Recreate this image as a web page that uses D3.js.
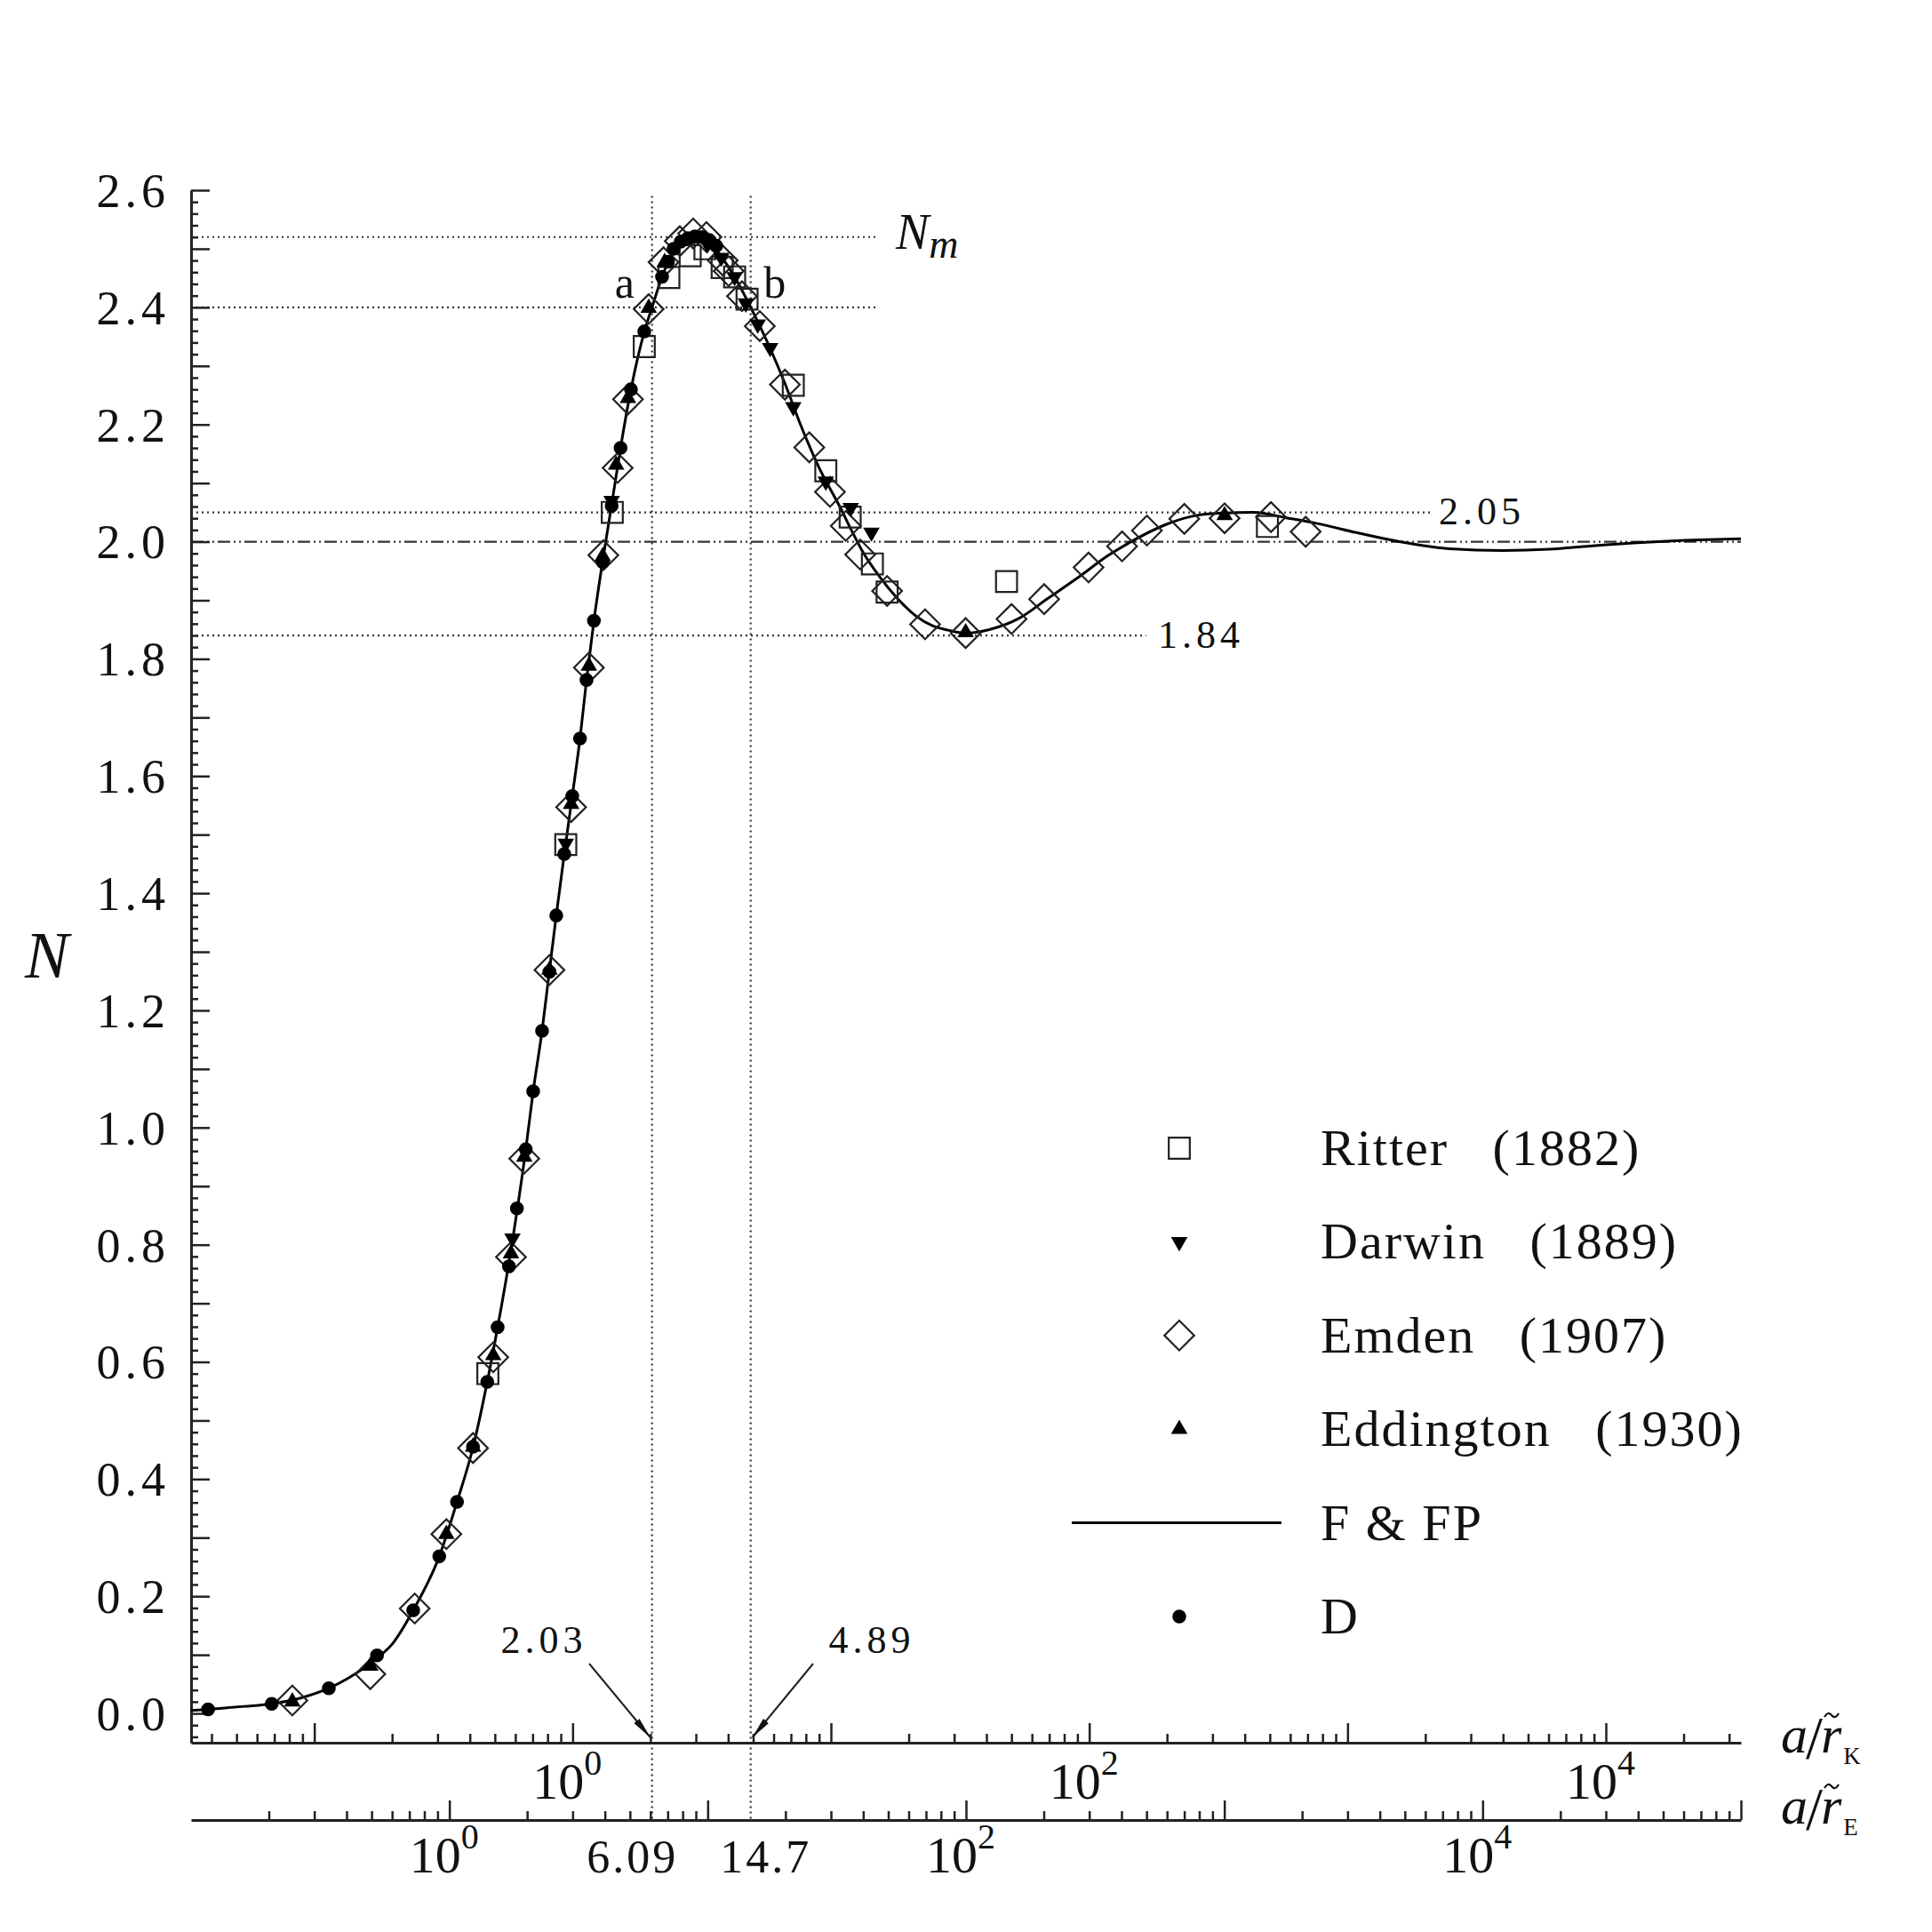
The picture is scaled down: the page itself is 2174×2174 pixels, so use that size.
<!DOCTYPE html>
<meta charset="utf-8">
<head>
    <title>N versus a/r</title>
    <script src="https://cdn.jsdelivr.net/npm/d3@7"></script>
</head>

<style>
    body { margin: 0; background: #fff; }
    text { font-family: "Liberation Serif", serif; fill: #111; }
    .axis path, .axis line { stroke: #222; }
    .axis path { stroke-width: 3px; }
    .axis line { stroke-width: 2.5px; }
</style>

<svg></svg>

<script>
    var W = 2174, H = 2174;

    // F & FP curve (a/r_K, N)
    var curveK = [0.0333, 0.0388, 0.0536, 0.0684, 0.0897, 0.1138, 0.1351, 0.172, 0.2008, 0.2415,
        0.3046, 0.3568, 0.4115, 0.4672, 0.5125, 0.5816, 0.6588, 0.7036, 0.7615, 0.8133,
        0.8643, 0.9284, 0.997, 1.068, 1.132, 1.209, 1.308, 1.416, 1.533, 1.682,
        1.894, 2.03, 2.219, 2.402, 2.600, 2.928, 3.297, 3.713, 4.238, 4.89,
        5.817, 6.636, 7.574, 8.874, 10.96, 11.99, 13.19, 15.45, 18.10, 21.21,
        24.85, 28.37, 33.23, 41.02, 53.44, 69.58, 90.6, 118.0, 153.7, 200.0,
        260.6, 339.3, 430.3, 590.6, 764, 1119, 1588, 2479, 3996, 6042,
        8851, 14260, 22970, 33333];
    var curveN = [0.005, 0.007, 0.012, 0.0165, 0.027, 0.043, 0.060, 0.092, 0.119, 0.176,
        0.268, 0.361, 0.454, 0.566, 0.659, 0.800, 0.963, 1.062, 1.165, 1.268,
        1.362, 1.467, 1.566, 1.664, 1.764, 1.865, 1.968, 2.063, 2.160, 2.260,
        2.358, 2.400, 2.452, 2.488, 2.510, 2.521, 2.517, 2.490, 2.452, 2.400,
        2.330, 2.270, 2.203, 2.132, 2.055, 2.020, 1.985, 1.940, 1.903, 1.874,
        1.856, 1.849, 1.844, 1.850, 1.869, 1.904, 1.939, 1.976, 2.006, 2.030,
        2.045, 2.049, 2.050, 2.040, 2.031, 2.014, 2.000, 1.988, 1.985, 1.987,
        1.993, 1.999, 2.003, 2.005];

    var ritterK = [0.4697, 0.9408, 1.424, 1.894, 2.358, 2.852, 3.253, 3.793, 4.238, 4.735,
        7.149, 9.552, 11.87, 14.47, 16.50, 47.84, 489.5];
    var ritterN = [0.580, 1.483, 2.050, 2.333, 2.451, 2.488, 2.500, 2.468, 2.452, 2.414,
        2.267, 2.121, 2.042, 1.962, 1.914, 1.932, 2.026];

    var darwinK = [0.585, 0.9408, 1.416, 3.323, 3.762, 4.238, 4.683, 5.208, 5.817, 7.149,
        9.552, 11.93, 14.35];
    var darwinN = [0.811, 1.485, 2.070, 2.508, 2.485, 2.452, 2.407, 2.371, 2.331, 2.230,
        2.103, 2.058, 2.016];

    var emdenK = [0.0822, 0.1647, 0.2447, 0.3245, 0.4115, 0.4928, 0.5772, 0.650, 0.8133, 0.9867,
        1.156, 1.315, 1.494, 1.638, 1.970, 2.249, 2.600, 2.928, 3.297, 3.812,
        4.019, 4.526, 5.304, 6.636, 8.245, 9.915, 11.41, 12.98, 16.50, 23.14,
        33.23, 50.02, 66.89, 99.38, 134.0, 167.2, 233.3, 334.2, 505.2, 688.2];
    var emdenN = [0.022, 0.067, 0.179, 0.306, 0.453, 0.608, 0.779, 0.947, 1.269, 1.547,
        1.785, 1.977, 2.126, 2.243, 2.397, 2.477, 2.513, 2.526, 2.520, 2.480,
        2.462, 2.419, 2.368, 2.268, 2.161, 2.085, 2.027, 1.978, 1.916, 1.859,
        1.844, 1.868, 1.902, 1.956, 1.992, 2.019, 2.039, 2.040, 2.042, 2.017];

    var eddK = [0.0822, 0.1647, 0.3245, 0.4115, 0.4928, 0.5772, 0.650, 0.8133, 0.9867, 1.156,
        1.308, 1.474, 1.638, 1.970, 2.272, 33.23, 334.2];
    var eddN = [0.020, 0.081, 0.306, 0.455, 0.611, 0.785, 0.950, 1.269, 1.552, 1.788,
        1.975, 2.131, 2.245, 2.399, 2.477, 1.845, 2.045];

    var dK = [0.0388, 0.0684, 0.1138, 0.1749, 0.2415, 0.3046, 0.3568, 0.4115, 0.4672, 0.5125,
        0.5668, 0.6085, 0.6588, 0.7036, 0.7615, 0.8133, 0.8643, 0.9284, 0.997, 1.068,
        1.132, 1.209, 1.308, 1.416, 1.533, 1.682, 1.894, 2.219, 2.339, 2.459,
        2.620, 2.792, 2.974, 3.169, 3.376, 3.596];
    var dN = [0.007, 0.0165, 0.043, 0.099, 0.176, 0.268, 0.361, 0.455, 0.566, 0.659,
        0.763, 0.862, 0.963, 1.062, 1.165, 1.266, 1.362, 1.467, 1.566, 1.664,
        1.764, 1.865, 1.965, 2.061, 2.160, 2.260, 2.359, 2.452, 2.478, 2.500,
        2.512, 2.518, 2.521, 2.520, 2.515, 2.505];

    // reference levels and marked abscissae
    var levelNm = 2.52, levelA = 2.40, levelHi = 2.05, levelLo = 1.84, levelMid = 2.0;
    var markA = 2.03, markB = 4.89;      // a/r_K
    var markAE = "6.09", markBE = "14.7"; // same points on a/r_E

    var legendNames = ["Ritter   (1882)", "Darwin   (1889)", "Emden   (1907)", "Eddington   (1930)", "F & FP", "D"];

    // scales
    var xK = d3.scaleLog().domain([1 / 30, 1e5 / 3]).range([215, 1959]);
    var xE = d3.scaleLog().domain([0.1, 1e5]).range([215, 1959]);
    var y = d3.scaleLinear().domain([-0.05, 2.6]).range([1961, 214]);
    var axisK = 1961, axisE = 2048;

    var svg = d3.select('svg').attr('width', W).attr('height', H);
    svg.append('rect').attr('width', W).attr('height', H).attr('fill', '#fff');

    var defs = svg.append('defs');
    defs.append('marker').attr('id', 'head')
        .attr('markerUnits', 'userSpaceOnUse')
        .attr('markerWidth', 26).attr('markerHeight', 12)
        .attr('refX', 24).attr('refY', 6).attr('orient', 'auto')
        .append('path').attr('d', 'M0,2 L24,6 L0,10 Z').attr('fill', '#111');

    // ---- reference lines
    var ref = svg.append('g').attr('stroke', '#333').attr('stroke-width', 2.2).attr('fill', 'none');
    function hdot(v, xEnd) {
        ref.append('line').attr('x1', 215).attr('x2', xK(xEnd)).attr('y1', y(v)).attr('y2', y(v))
            .attr('stroke-dasharray', '2,4');
    }
    hdot(levelNm, 15);
    hdot(levelA, 15);
    hdot(levelHi, 2150);
    hdot(levelLo, 166);
    ref.append('line').attr('x1', 215).attr('x2', 1959).attr('y1', y(levelMid)).attr('y2', y(levelMid))
        .attr('stroke-dasharray', '14,4,2,4,2,4');
    [markA, markB].forEach(function (m) {
        ref.append('line').attr('x1', xK(m)).attr('x2', xK(m)).attr('y1', y(2.59)).attr('y2', axisE)
            .attr('stroke-dasharray', '2,4');
    });

    // ---- axes
    function logTicks(lo, hi, major) {
        var out = [];
        for (var e = -2; e <= 5; e++) {
            for (var k = 1; k <= 9; k++) {
                var v = k * Math.pow(10, e);
                if (v >= lo && v <= hi && ((k === 1) === major)) out.push(v);
            }
        }
        return out;
    }
    var kMaj = logTicks(0.034, 34000, true), kMin = logTicks(0.034, 34000, false);
    var eMaj = logTicks(0.11, 1e5, true), eMin = logTicks(0.11, 1e5, false);

    function xAxis(scale, yPos, maj, min) {
        svg.append('g').attr('class', 'axis').attr('transform', 'translate(0,' + yPos + ')')
            .call(d3.axisTop(scale).tickValues(maj).tickSizeInner(22).tickSizeOuter(0).tickFormat(''));
        svg.append('g').attr('class', 'axis').attr('transform', 'translate(0,' + yPos + ')')
            .call(d3.axisTop(scale).tickValues(min).tickSizeInner(10).tickSizeOuter(0).tickFormat(''))
            .select('.domain').remove();
    }
    xAxis(xK, axisK, kMaj, kMin);
    xAxis(xE, axisE, eMaj, eMin);

    var yMaj = d3.range(0, 27).map(function (i) { return i / 10; });
    var yMin = d3.range(-2, 131).filter(function (i) { return i % 5 !== 0; }).map(function (i) { return i / 50; });
    var gy = svg.append('g').attr('class', 'axis').attr('transform', 'translate(215,0)')
        .call(d3.axisLeft(y).tickValues(yMaj).tickSizeInner(-21).tickSizeOuter(0).tickPadding(24)
            .tickFormat(function (d) { return Math.round(d * 10) % 2 === 0 ? d3.format('.1f')(d) : ''; }));
    gy.selectAll('text').attr('font-size', 54).attr('letter-spacing', 5).attr('font-family', '"Liberation Serif", serif')
        .attr('fill', '#111').attr('dy', '0.34em');
    svg.append('g').attr('class', 'axis').attr('transform', 'translate(215,0)')
        .call(d3.axisLeft(y).tickValues(yMin).tickSizeInner(-8).tickSizeOuter(0).tickFormat(''))
        .select('.domain').remove();

    // power-of-ten labels
    function powLabel(x, yBase, exp) {
        var t = svg.append('text').attr('x', x).attr('y', yBase).attr('text-anchor', 'middle')
            .attr('font-size', 58);
        t.append('tspan').text('10');
        t.append('tspan').attr('font-size', 40).attr('dy', -27).text(exp);
    }
    [0, 2, 4].forEach(function (e) {
        powLabel(xK(Math.pow(10, e)) - 6, 2024, e);
        powLabel(xE(Math.pow(10, e)) - 6, 2107, e);
    });
    svg.append('text').attr('x', xE(3 * markA) - 22).attr('y', 2107).attr('text-anchor', 'middle')
        .attr('font-size', 52).attr('letter-spacing', 3).text(markAE);
    svg.append('text').attr('x', xE(3 * markB) + 17).attr('y', 2107).attr('text-anchor', 'middle')
        .attr('font-size', 52).attr('letter-spacing', 3).text(markBE);

    // axis titles: a / r-tilde with a small-caps subscript, one text each
    function axTitle(yBase, sub) {
        var t = svg.append('text').attr('x', 2004).attr('y', yBase).attr('font-size', 60);
        t.append('tspan').attr('font-style', 'italic').text('a');
        t.append('tspan').attr('font-size', 68).attr('dy', 6).attr('dx', -2).text('/');
        t.append('tspan').attr('font-style', 'italic').attr('dy', -6).attr('dx', -2).text('r');
        t.append('tspan').attr('font-size', 27).attr('dy', 13).attr('dx', 2).text(sub);
        svg.append('path').attr('d', 'M2053,' + (yBase - 40) + ' q4,-7 8,-2 t8,-2')
            .attr('fill', 'none').attr('stroke', '#111').attr('stroke-width', 2.2);
    }
    axTitle(1972, 'K');
    axTitle(2052, 'E');
    svg.append('text').attr('x', 28).attr('y', 1100).attr('font-size', 74).attr('font-style', 'italic').text('N');

    // ---- curve
    var pts = curveK.map(function (k, i) { return [xK(k), y(curveN[i])]; });
    svg.append('path').attr('d', d3.line().curve(d3.curveMonotoneX)(pts))
        .attr('fill', 'none').attr('stroke', '#000').attr('stroke-width', 3);

    // ---- markers
    var shapes = {
        square: { type: d3.symbolSquare, size: 560, rot: 0, fill: 'none' },
        down: { type: d3.symbolTriangle, size: 150, rot: 180, fill: '#000' },
        diamond: { type: d3.symbolSquare, size: 560, rot: 45, fill: 'none' },
        up: { type: d3.symbolTriangle, size: 150, rot: 0, fill: '#000' },
        dot: { type: d3.symbolCircle, size: 190, rot: 0, fill: '#000' }
    };
    function drawMarker(g, s, cx, cy) {
        g.append('path').attr('d', d3.symbol().type(s.type).size(s.size)())
            .attr('transform', 'translate(' + cx + ',' + cy + ') rotate(' + s.rot + ')')
            .attr('fill', s.fill).attr('stroke', s.fill === 'none' ? '#222' : 'none').attr('stroke-width', 2.2);
    }
    function series(ks, ns, s) {
        var g = svg.append('g');
        ks.forEach(function (k, i) { drawMarker(g, s, xK(k), y(ns[i])); });
    }
    series(emdenK, emdenN, shapes.diamond);
    series(ritterK, ritterN, shapes.square);
    series(dK, dN, shapes.dot);
    series(eddK, eddN, shapes.up);
    series(darwinK, darwinN, shapes.down);

    // ---- annotations
    svg.append('text').attr('x', 1008).attr('y', 280).attr('font-size', 56).attr('font-style', 'italic').text('N')
        .append('tspan').attr('font-size', 46).attr('dy', 10).text('m');
    svg.append('text').attr('x', xK(markA) - 31).attr('y', 335).attr('text-anchor', 'middle').attr('font-size', 50).text('a');
    svg.append('text').attr('x', xK(markB) + 27).attr('y', 335).attr('text-anchor', 'middle').attr('font-size', 50).text('b');
    svg.append('text').attr('x', 1619).attr('y', y(levelHi) + 13).attr('font-size', 44).attr('letter-spacing', 5).text('2.05');
    svg.append('text').attr('x', 1303).attr('y', y(levelLo) + 14).attr('font-size', 44).attr('letter-spacing', 5).text('1.84');
    svg.append('text').attr('x', 612).attr('y', 1860).attr('text-anchor', 'middle').attr('font-size', 44).attr('letter-spacing', 5).text(String(markA));
    svg.append('text').attr('x', 981).attr('y', 1860).attr('text-anchor', 'middle').attr('font-size', 44).attr('letter-spacing', 5).text(String(markB));
    svg.append('line').attr('x1', 663).attr('y1', 1872).attr('x2', xK(markA) - 2).attr('y2', axisK - 6)
        .attr('stroke', '#222').attr('stroke-width', 2).attr('marker-end', 'url(#head)');
    svg.append('line').attr('x1', 915).attr('y1', 1872).attr('x2', xK(markB) + 2).attr('y2', axisK - 6)
        .attr('stroke', '#222').attr('stroke-width', 2).attr('marker-end', 'url(#head)');

    // ---- legend
    var legendShapes = [shapes.square, shapes.down, shapes.diamond, shapes.up, null, shapes.dot];
    var lg = svg.append('g');
    legendNames.forEach(function (name, i) {
        var cy = 1292 + i * 105.4;
        if (legendShapes[i]) {
            drawMarker(lg, legendShapes[i], 1327, cy);
        } else {
            lg.append('line').attr('x1', 1206).attr('x2', 1442).attr('y1', cy).attr('y2', cy)
                .attr('stroke', '#000').attr('stroke-width', 3);
        }
        lg.append('text').attr('x', 1486).attr('y', cy + 19).attr('font-size', 58).attr('letter-spacing', 2)
            .style('white-space', 'pre').text(name);
    });
</script>
